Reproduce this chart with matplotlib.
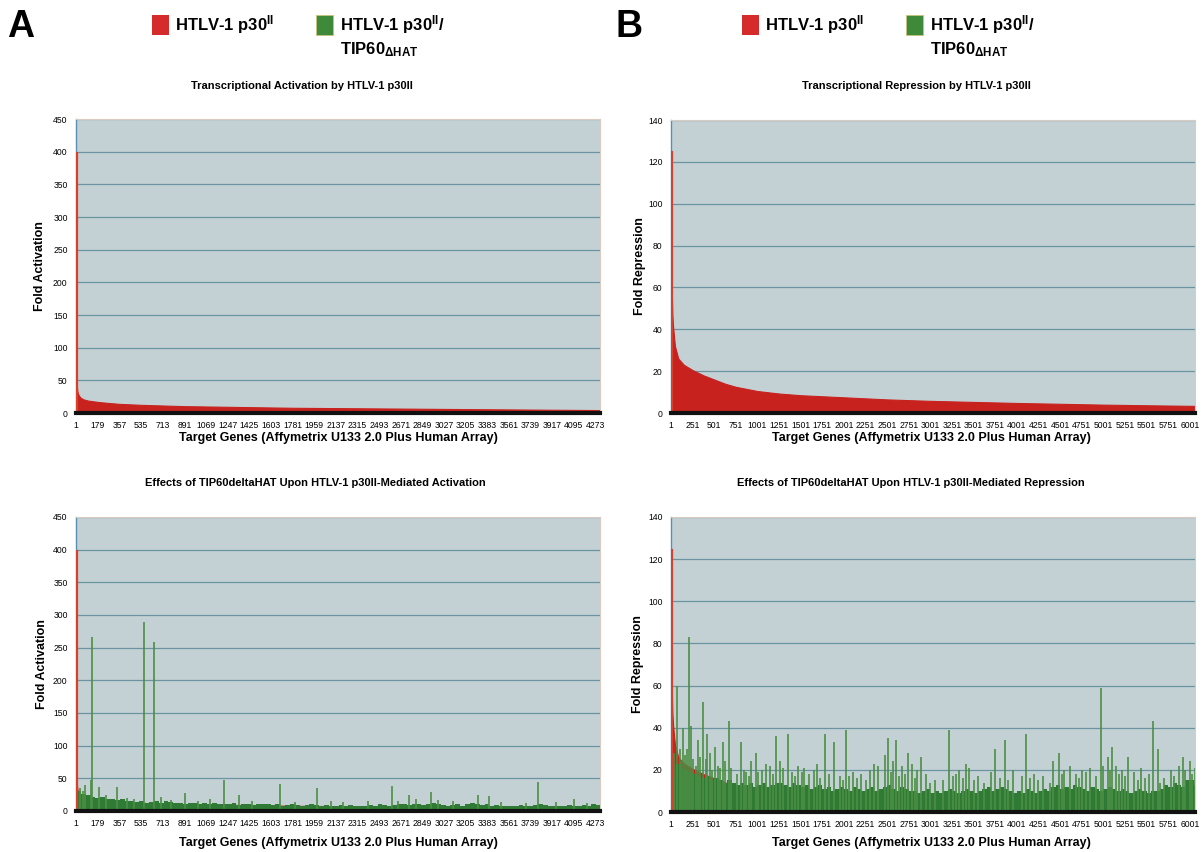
import matplotlib
matplotlib.use('Agg')
import matplotlib.pyplot as plt
from matplotlib.patches import Rectangle
import numpy as np

plt.rcParams['font.family'] = ['Liberation Sans', 'DejaVu Sans']
plt.rcParams['mathtext.fontset'] = 'custom'
plt.rcParams['mathtext.rm'] = 'Liberation Sans'
plt.rcParams['mathtext.bf'] = 'Liberation Sans:bold'
plt.rcParams['mathtext.it'] = 'Liberation Sans:italic'

# ---------------- data ----------------
act_n_genes = 4310
rep_n_genes = 6060
act_tick_labels = [1, 179, 357, 535, 713, 891, 1069, 1247, 1425, 1603, 1781, 1959, 2137,
                   2315, 2493, 2671, 2849, 3027, 3205, 3383, 3561, 3739, 3917, 4095, 4273]
rep_tick_labels = [1, 251, 501, 751, 1001, 1251, 1501, 1751, 2001, 2251, 2501, 2751, 3001,
                   3251, 3501, 3751, 4001, 4251, 4501, 4751, 5001, 5251, 5501, 5751, 6001]

# p30II fold activation (sorted), sampled along the gene axis
act_p30_genes = [1, 2, 3, 5, 8, 12, 20, 35, 60, 100, 179, 260, 357, 535, 713, 891, 1069,
                 1247, 1425, 1781, 2137, 2493, 2849, 3205, 3561, 3917, 4310]
act_p30_vals = [400, 120, 75, 52, 40, 33, 28, 24, 21, 19, 17, 15.5, 14, 12.5, 11.5, 10.5, 10,
                9.5, 9, 8, 7.5, 7, 6.5, 6, 5.5, 5, 4.5]

# p30II fold repression (sorted)
rep_p30_genes = [1, 3, 6, 10, 16, 25, 46, 85, 150, 251, 376, 501, 626, 751, 1001, 1251, 1501,
                 1751, 2001, 2501, 3001, 3501, 4001, 4501, 5001, 5501, 6060]
rep_p30_vals = [125, 90, 70, 58, 47, 41, 32, 26, 23, 20.5, 18, 16, 14, 12.5, 10.5, 9.3, 8.5,
                8, 7.5, 6.5, 5.8, 5.3, 4.8, 4.4, 4.0, 3.7, 3.4]

# p30II/TIP60dHAT activation: background level per block of 40 genes
act_tip_background = [30, 26, 24, 22, 20, 21, 18, 19, 17, 18,
                      15, 16, 14, 15, 13, 14, 15, 13, 16, 14,
                      12, 13, 11, 12, 13, 11, 12, 10, 12, 11,
                      11, 10, 12, 9, 10, 11, 9, 10, 11, 10,
                      9, 10, 8, 9, 10, 9, 8, 9, 11, 9,
                      8, 9, 8, 7, 9, 8, 9, 8, 7, 8,
                      9, 8, 10, 9, 8, 9, 11, 10, 9, 10,
                      11, 9, 10, 12, 10, 9, 8, 9, 10, 8,
                      10, 12, 11, 9, 10, 8, 9, 8, 7, 8,
                      8, 9, 8, 7, 9, 10, 9, 8, 7, 8,
                      8, 9, 7, 8, 9, 8, 10, 9]
# individual genes standing out
act_tip_spike_genes = [30, 60, 78, 121, 135, 191, 250, 338, 420, 480,
                       558, 642, 700, 780, 896, 1000, 1100, 1220, 1339, 1450,
                       1677, 1800, 1982, 2100, 2200, 2400, 2597, 2650, 2743, 2800,
                       2918, 2980, 3100, 3307, 3397, 3500, 3700, 3800, 3950, 4097, 4200]
act_tip_spike_vals = [35, 30, 40, 48, 267, 37, 25, 36, 20, 18,
                      289, 258, 22, 17, 28, 16, 18, 48, 25, 15,
                      41, 14, 35, 15, 14, 15, 39, 16, 24, 18,
                      29, 17, 15, 25, 23, 14, 13, 44, 14, 18, 13]

# p30II/TIP60dHAT repression: background level per block of 50 genes
rep_tip_background = [16, 23, 21, 20, 19, 18,
                      17, 16, 17, 15, 16,
                      15, 14, 15, 14, 13,
                      14, 13, 14, 12, 13, 14, 12, 13,
                      14, 14, 13, 12, 14, 13, 12, 13,
                      11, 12, 13, 11, 12, 10, 11, 12,
                      11, 10, 12, 11, 10, 11, 12, 10,
                      11, 12, 13, 11, 10, 12, 11, 10,
                      10, 9, 10, 11, 9, 10, 9, 10,
                      11, 10, 9, 10, 11, 10, 9, 10,
                      11, 12, 10, 11, 12, 11, 10, 9,
                      10, 9, 11, 10, 9, 10, 11, 10,
                      12, 13, 11, 12, 11, 13, 12, 11,
                      10, 12, 11, 10, 11, 12, 11, 10,
                      11, 10, 9, 10, 11, 10, 9, 10,
                      10, 11, 13, 12, 14, 13, 12, 15,
                      15, 13]
rep_tip_spike_genes = [72, 100, 143, 160, 210, 237, 260, 308, 375, 414,
                       450, 512, 540, 603, 670, 700, 807, 870, 930, 984,
                       1050, 1102, 1150, 1220, 1260, 1350, 1400, 1468, 1535, 1600,
                       1650, 1692, 1782, 1889, 1950, 2026, 2100, 2200, 2300, 2352,
                       2400, 2470, 2510, 2569, 2608, 2675, 2746, 2785, 2850, 2895,
                       2950, 3050, 3218, 3296, 3330, 3414, 3450, 3550, 3700, 3748,
                       3858, 3950, 4102, 4200, 4300, 4420, 4483, 4550, 4613, 4680,
                       4759, 4850, 4979, 5050, 5105, 5150, 5220, 5282, 5350, 5439,
                       5569, 5628, 5700, 5780, 5870, 5919, 6000, 6056,
                       30, 120, 185, 290, 340, 400, 480, 570, 630, 760,
                       840, 900, 1010, 1180, 1300, 1440, 1510, 1720, 1830, 1990,
                       2060, 2150, 2250, 2540, 2640, 2710, 2820, 3000, 3150, 3260,
                       3380, 3500, 3620, 3800, 3900, 4060, 4150, 4250, 4380, 4520,
                       4720, 4800, 4920, 5000, 5080, 5180, 5250, 5400, 5480, 5530,
                       5660, 5820, 5950, 6030]
rep_tip_spike_vals = [60, 30, 40, 27, 83, 41, 25, 34, 52, 37,
                      28, 31, 22, 33, 43, 21, 33, 19, 24, 28,
                      20, 23, 22, 36, 24, 37, 19, 22, 21, 18,
                      20, 23, 37, 33, 17, 39, 19, 18, 20, 23,
                      22, 27, 35, 24, 34, 22, 28, 23, 20, 26,
                      18, 15, 39, 18, 20, 23, 21, 17, 19, 30,
                      34, 20, 37, 18, 17, 24, 28, 20, 22, 18,
                      20, 21, 59, 26, 31, 22, 20, 26, 19, 21,
                      43, 30, 16, 20, 22, 26, 24, 21,
                      28, 24, 30, 22, 26, 25, 20, 21, 24, 18,
                      20, 17, 19, 18, 21, 17, 19, 16, 18, 15,
                      17, 16, 15, 19, 17, 18, 16, 14, 15, 17,
                      16, 15, 14, 16, 15, 17, 16, 15, 14, 18,
                      16, 19, 17, 22, 20, 18, 17, 15, 16, 18,
                      14, 17, 20, 18]

# ---------------- figure ----------------
W, H = 1203, 852
fig = plt.figure(figsize=(W / 100, H / 100), dpi=100)
fig.patch.set_facecolor('white')

BG = '#c4d1d4'
GRID = '#6b93a2'
RED = '#c8221f'
GREEN = '#2f7b35'
SPIKE = '#4b8f44'


def px_ax(l, t, r, b):
    return fig.add_axes([l / W, 1 - b / H, (r - l) / W, (b - t) / H])


def ftext(x, y, s, **kw):
    fig.text(x / W, 1 - y / H, s, **kw)


def style(ax, ymax, ystep, n, ticks):
    ax.set_facecolor(BG)
    ax.set_xlim(0.5, n + 0.5)
    ax.set_ylim(0, ymax)
    ax.set_yticks(np.arange(0, ymax + 1, ystep))
    ax.yaxis.grid(True, color=GRID, lw=0.9)
    ax.set_axisbelow(True)
    ax.set_xticks(ticks)
    ax.set_xticklabels([str(t) for t in ticks])
    ax.tick_params(axis='x', length=0, labelsize=6.2, pad=6)
    ax.tick_params(axis='y', length=0, labelsize=6.2, pad=6)
    for s in ['top', 'right']:
        ax.spines[s].set_color('#d9cbc3')
        ax.spines[s].set_linewidth(0.8)
    ax.spines['left'].set_color('#5b8fb0')
    ax.spines['left'].set_linewidth(1.0)
    ax.spines['bottom'].set_color('#111111')
    ax.spines['bottom'].set_linewidth(3.0)
    ax.spines['bottom'].set_zorder(5)


def draw_red(ax, genes, vals, n):
    ax.fill_between(genes, 0, vals, color=RED, lw=0.8, edgecolor=RED, zorder=2)
    # first (largest) gene as a visible column next to the axis
    ax.vlines(genes[0] + n * 0.0022, 0, vals[0], color='#d8402c', lw=1.6, zorder=4.5)


def draw_green(ax, background, block, n, sg, sv):
    centers = [block * i + block / 2 + 0.5 for i in range(len(background))]
    ax.bar(centers, background, width=block, color=GREEN, linewidth=0, zorder=3)
    ax.vlines(sg, 0, sv, color=SPIKE, lw=1.2, zorder=4)


# Top-left
ax1 = px_ax(76, 119, 600, 413)
style(ax1, 450, 50, act_n_genes, act_tick_labels)
draw_red(ax1, act_p30_genes, act_p30_vals, act_n_genes)

# Top-right
ax2 = px_ax(671, 120, 1195, 413)
style(ax2, 140, 20, rep_n_genes, rep_tick_labels)
draw_red(ax2, rep_p30_genes, rep_p30_vals, rep_n_genes)

# Bottom-left
ax3 = px_ax(76, 517, 600, 811)
style(ax3, 450, 50, act_n_genes, act_tick_labels)
draw_red(ax3, act_p30_genes, act_p30_vals, act_n_genes)
draw_green(ax3, act_tip_background, 40, act_n_genes, act_tip_spike_genes, act_tip_spike_vals)

# Bottom-right
ax4 = px_ax(671, 517, 1195, 812)
style(ax4, 140, 20, rep_n_genes, rep_tick_labels)
draw_red(ax4, rep_p30_genes, rep_p30_vals, rep_n_genes)
draw_green(ax4, rep_tip_background, 50, rep_n_genes, rep_tip_spike_genes, rep_tip_spike_vals)

# axis labels
for (x, y) in [(40, 266), (42, 664)]:
    ftext(x, y, 'Fold Activation', rotation=90, ha='center', va='center',
          fontsize=9, fontweight='bold')
for (x, y) in [(640, 266), (638, 664)]:
    ftext(x, y, 'Fold Repression', rotation=90, ha='center', va='center',
          fontsize=9, fontweight='bold')
xl = 'Target Genes (Affymetrix U133 2.0 Plus Human Array)'
for (x, y) in [(338, 438), (931, 438), (338, 843), (931, 843)]:
    ftext(x, y, xl, ha='center', va='center', fontsize=9, fontweight='bold')

# titles
ftext(302, 86, 'Transcriptional Activation by HTLV-1 p30II', ha='center', va='center',
      fontsize=8, fontweight='bold')
ftext(916, 86, 'Transcriptional Repression by HTLV-1 p30II', ha='center', va='center',
      fontsize=8, fontweight='bold')
ftext(315, 483, 'Effects of TIP60deltaHAT Upon HTLV-1 p30II-Mediated Activation',
      ha='center', va='center', fontsize=8, fontweight='bold')
ftext(911, 483, 'Effects of TIP60deltaHAT Upon HTLV-1 p30II-Mediated Repression',
      ha='center', va='center', fontsize=8, fontweight='bold')

# panel letters
ftext(7, 27, 'A', ha='left', va='center', fontsize=27, fontweight='bold')
ftext(616, 27, 'B', ha='left', va='center', fontsize=27, fontweight='bold')

# legends
def legend(x_red, x_green):
    fig.patches.append(Rectangle((x_red / W, 1 - 35 / H), 17 / W, 20 / H,
                                 transform=fig.transFigure, facecolor='#d62b2b',
                                 edgecolor='none'))
    ftext(x_red + 23, 25, r'HTLV-1 p30$^{\mathbf{II}}$', ha='left', va='center',
          fontsize=12, fontweight='bold')
    fig.patches.append(Rectangle((x_green / W, 1 - 35 / H), 17 / W, 20 / H,
                                 transform=fig.transFigure, facecolor='#3f8a3a',
                                 edgecolor='#c9c27a', lw=0.6))
    ftext(x_green + 24, 25, r'HTLV-1 p30$^{\mathbf{II}}$/', ha='left', va='center',
          fontsize=12, fontweight='bold')
    ftext(x_green + 24, 50, r'TIP60$_{\mathbf{\Delta HAT}}$', ha='left', va='center',
          fontsize=12, fontweight='bold')


legend(152, 316)
legend(742, 906)

fig.savefig('out.png', dpi=100)
